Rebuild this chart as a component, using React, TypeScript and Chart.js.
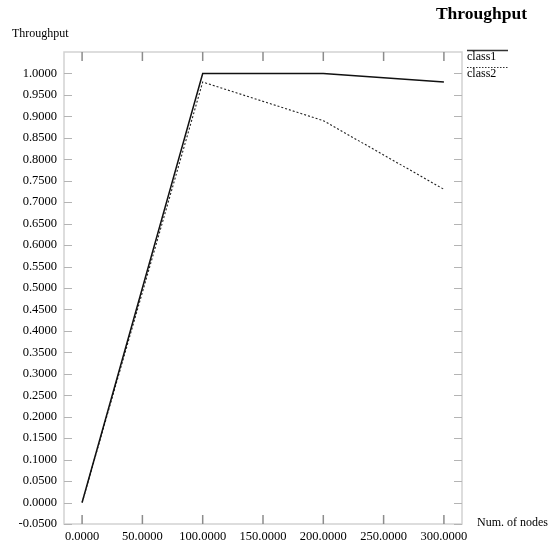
import React, { useEffect, useRef } from "react";
import { Chart, registerables } from "chart.js";

Chart.register(...registerables);

// Throughput per traffic class versus network size
const NODES = [0, 100, 200, 300];
const CLASS1 = [0.0, 1.0, 1.0, 0.98];
const CLASS2 = [0.0, 0.98, 0.89, 0.73];
const SERIES_NAMES = ["class1", "class2"];

const X_TICKS = [0, 50, 100, 150, 200, 250, 300];
const Y_TICKS = [
  -0.05, 0.0, 0.05, 0.1, 0.15, 0.2, 0.25, 0.3, 0.35, 0.4, 0.45, 0.5, 0.55,
  0.6, 0.65, 0.7, 0.75, 0.8, 0.85, 0.9, 0.95, 1.0,
];

const TITLE = "Throughput";
const Y_TITLE = "Throughput";
const X_TITLE = "Num. of nodes";

const FONT = '"Liberation Serif", "DejaVu Serif", serif';

function seg(ctx: CanvasRenderingContext2D, x1: number, y1: number, x2: number, y2: number) {
  ctx.beginPath();
  ctx.moveTo(x1, y1);
  ctx.lineTo(x2, y2);
  ctx.stroke();
}

// Light frame around the plot area with inward tick marks on all four sides
const framePlugin = {
  id: "frame",
  beforeDatasetsDraw(chart: any) {
    const { ctx, chartArea: a, scales } = chart;
    ctx.save();
    ctx.strokeStyle = "#d2d2d2";
    ctx.lineWidth = 1.5;
    ctx.strokeRect(a.left, a.top, a.right - a.left, a.bottom - a.top);

    ctx.strokeStyle = "#b4b4b4";
    ctx.lineWidth = 1;
    for (const v of Y_TICKS) {
      const y = Math.round(scales.y.getPixelForValue(v)) + 0.5;
      seg(ctx, a.left, y, a.left + 8, y);
      seg(ctx, a.right - 8, y, a.right, y);
    }

    ctx.strokeStyle = "#8c8c8c";
    ctx.lineWidth = 1.5;
    for (const v of X_TICKS) {
      const x = scales.x.getPixelForValue(v);
      seg(ctx, x, a.top, x, a.top + 9);
      seg(ctx, x, a.bottom - 9, x, a.bottom);
    }
    ctx.restore();
  },
};

// Title, axis captions and the line-sample legend at the right
const textPlugin = {
  id: "captions",
  afterDraw(chart: any) {
    const { ctx, chartArea: a } = chart;
    ctx.save();
    ctx.fillStyle = "#000";

    ctx.font = `bold 17.5px ${FONT}`;
    ctx.textAlign = "right";
    ctx.textBaseline = "alphabetic";
    ctx.fillText(TITLE, 527, 19);

    ctx.font = `12px ${FONT}`;
    ctx.textAlign = "left";
    ctx.fillText(Y_TITLE, 12, 37);

    ctx.textBaseline = "middle";
    ctx.fillText(X_TITLE, a.right + 15, a.bottom - 1);

    const lx1 = a.right + 5;
    const lx2 = a.right + 46;
    ctx.strokeStyle = "#333";
    ctx.lineWidth = 1.5;
    seg(ctx, lx1, a.top - 1.5, lx2, a.top - 1.5);
    ctx.fillText(SERIES_NAMES[0], lx1, a.top + 5);

    ctx.lineWidth = 1;
    ctx.setLineDash([1.5, 1.5]);
    seg(ctx, lx1, a.top + 15.5, lx2, a.top + 15.5);
    ctx.setLineDash([]);
    ctx.fillText(SERIES_NAMES[1], lx1, a.top + 22);
    ctx.restore();
  },
};

export default function App() {
  const canvasRef = useRef<HTMLCanvasElement | null>(null);

  useEffect(() => {
    const canvas = canvasRef.current;
    if (!canvas) return;
    const chart = new Chart(canvas, {
      type: "line",
      data: {
        datasets: [
          {
            label: SERIES_NAMES[0],
            data: NODES.map((x, i) => ({ x, y: CLASS1[i] })),
            borderColor: "#111",
            borderWidth: 1.5,
            pointRadius: 0,
            tension: 0,
            fill: false,
          },
          {
            label: SERIES_NAMES[1],
            data: NODES.map((x, i) => ({ x, y: CLASS2[i] })),
            borderColor: "#222",
            borderWidth: 1.1,
            borderDash: [2, 2],
            pointRadius: 0,
            tension: 0,
            fill: false,
          },
        ],
      },
      options: {
        responsive: false,
        animation: false,
        layout: { padding: { top: 52, right: 88, left: 0, bottom: 0 } },
        plugins: {
          legend: { display: false },
          title: { display: false },
          tooltip: { enabled: false },
        },
        scales: {
          x: {
            type: "linear",
            min: -15,
            max: 315,
            afterBuildTicks: (scale: any) => {
              scale.ticks = X_TICKS.map((value) => ({ value }));
            },
            afterFit: (scale: any) => {
              scale.height = 24;
            },
            grid: { display: false, drawTicks: false },
            border: { display: false },
            ticks: {
              autoSkip: false,
              maxRotation: 0,
              padding: 5,
              color: "#000",
              font: { family: FONT, size: 12.5 },
              callback: (v: any) => Number(v).toFixed(4),
            },
          },
          y: {
            type: "linear",
            min: -0.05,
            max: 1.05,
            afterBuildTicks: (scale: any) => {
              scale.ticks = Y_TICKS.map((value) => ({ value }));
            },
            afterFit: (scale: any) => {
              scale.width = 64;
            },
            grid: { display: false, drawTicks: false },
            border: { display: false },
            ticks: {
              autoSkip: false,
              padding: 7,
              color: "#000",
              font: { family: FONT, size: 12.5 },
              callback: (v: any) => Number(v).toFixed(4),
            },
          },
        },
      },
      plugins: [framePlugin, textPlugin],
    });
    return () => chart.destroy();
  }, []);

  return (
    <div style={{ position: "absolute", left: 0, top: 0, width: 550, height: 548, background: "#fff" }}>
      <canvas ref={canvasRef} width={550} height={548} style={{ display: "block" }} />
    </div>
  );
}
